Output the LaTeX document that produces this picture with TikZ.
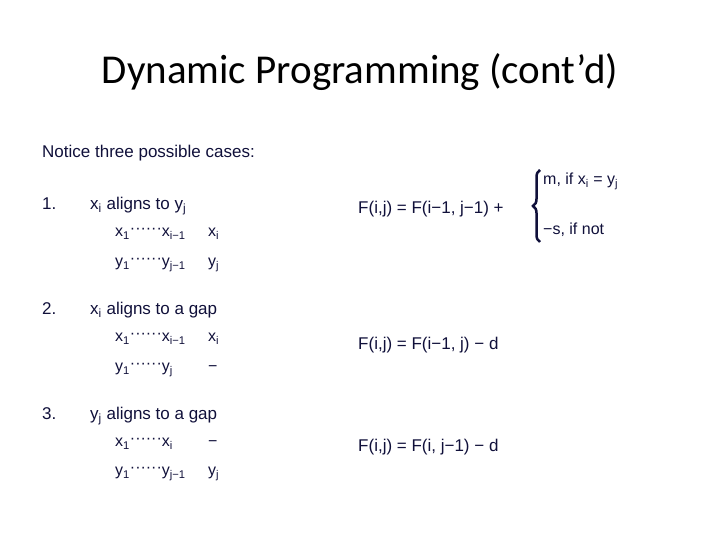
\documentclass[tikz,border=0pt]{standalone}
\usepackage{fontspec}
\setmainfont{Liberation Sans}
\newfontfamily\titlefont{Carlito}
\usetikzlibrary{decorations.pathreplacing}
\definecolor{ink}{HTML}{10103A}
\newcommand\sbx[1]{\textsubscript{#1}}
\newcommand\dotsx{\raisebox{0.45ex}{\textperiodcentered\textperiodcentered\textperiodcentered\textperiodcentered\textperiodcentered\textperiodcentered}}
\begin{document}
\begin{tikzpicture}[x=1pt,y=1pt,
  t/.style={anchor=base west,inner sep=0pt,text=ink,font=\fontsize{17}{20}\selectfont},
  tr/.style={t,font=\fontsize{16}{19}\selectfont}]
\useasboundingbox (0,0) rectangle (720,540);
\node[anchor=base,inner sep=0pt,font=\titlefont\fontsize{41}{48}\selectfont] (title) at (360,456) {Dynamic Programming (cont’d)};
\node[t] (notice) at (42,382) {Notice three possible cases:};
\node[t] (n1) at (42,330) {1.};
\node[t] (c1) at (90,330) {x\sbx{i} aligns to y\sbx{j}};
\node[tr] (r1a) at (115,303) {x\sbx{1}\dotsx x\sbx{i\textminus1}};
\node[tr] (r1b) at (208,303) {x\sbx{i}};
\node[tr] (r1c) at (115,273) {y\sbx{1}\dotsx y\sbx{j\textminus1}};
\node[tr] (r1d) at (208,273) {y\sbx{j}};
\node[t] (f1) at (358,326) {F(i,j) = F(i\textminus1, j\textminus1) +};
\coordinate (bb) at (540,298);
\coordinate (bt) at (540,370);
\draw[ink,line width=2.5pt,decorate,decoration={brace,amplitude=7pt}] (bb) -- (bt);
\node[tr] (m) at (543,355) {m, if x\sbx{i} = y\sbx{j}};
\node[tr] (s) at (543,305) {\textminus s, if not};
\node[t] (n2) at (42,225) {2.};
\node[t] (c2) at (90,225) {x\sbx{i} aligns to a gap};
\node[tr] (r2a) at (115,198) {x\sbx{1}\dotsx x\sbx{i\textminus1}};
\node[tr] (r2b) at (208,198) {x\sbx{i}};
\node[tr] (r2c) at (115,168) {y\sbx{1}\dotsx y\sbx{j}};
\node[tr] (r2d) at (208,168) {\textminus};
\node[t] (f2) at (358,190) {F(i,j) = F(i\textminus1, j) \textminus\ d};
\node[t] (n3) at (42,120) {3.};
\node[t] (c3) at (90,120) {y\sbx{j} aligns to a gap};
\node[tr] (r3a) at (115,93) {x\sbx{1}\dotsx x\sbx{i}};
\node[tr] (r3b) at (208,93) {\textminus};
\node[tr] (r3c) at (115,64) {y\sbx{1}\dotsx y\sbx{j\textminus1}};
\node[tr] (r3d) at (208,64) {y\sbx{j}};
\node[t] (f3) at (358,88) {F(i,j) = F(i, j\textminus1) \textminus\ d};
\end{tikzpicture}
\end{document}
